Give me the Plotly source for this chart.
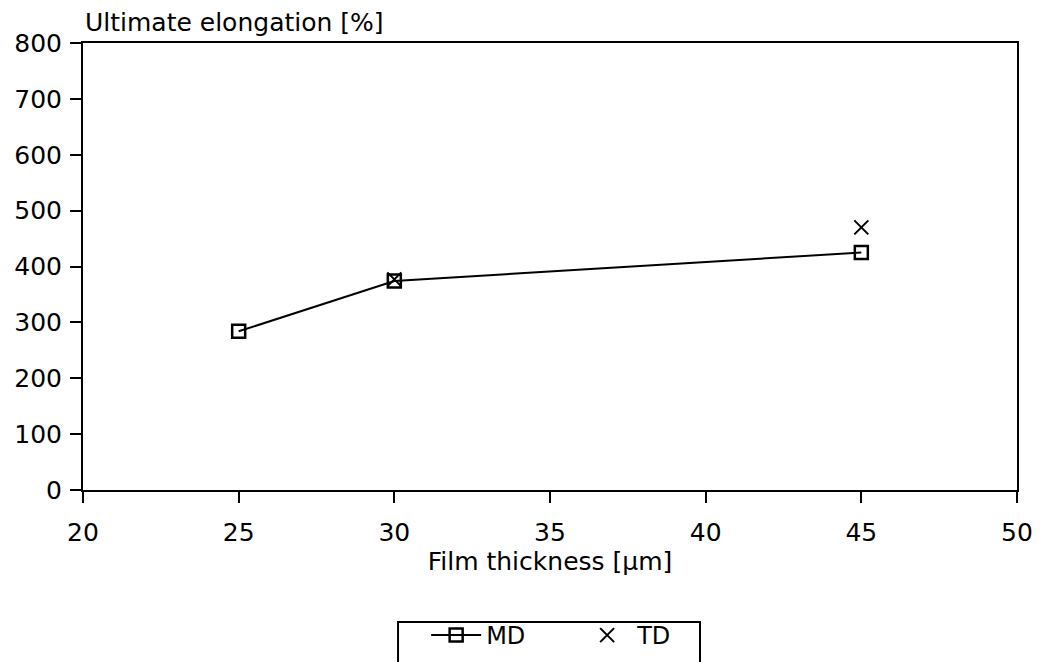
import plotly.graph_objects as go

# Ultimate elongation vs. film thickness, machine (MD) and transverse (TD) direction
thickness_md = [25, 30, 45]
elongation_md = [284, 374, 425]

thickness_td = [30, 45]
elongation_td = [377, 470]

x_ticks = [20, 25, 30, 35, 40, 45, 50]
y_ticks = [0, 100, 200, 300, 400, 500, 600, 700, 800]

font_family = "DejaVu Sans, Verdana, sans-serif"

fig = go.Figure()

fig.add_trace(go.Scatter(
    x=thickness_md, y=elongation_md, name="MD",
    mode="lines+markers",
    line=dict(color="black", width=2),
    marker=dict(symbol="square-open", size=13, color="black",
                line=dict(color="black", width=2.5)),
))

fig.add_trace(go.Scatter(
    x=thickness_td, y=elongation_td, name="TD",
    mode="markers",
    marker=dict(symbol="x-thin-open", size=14, color="black",
                line=dict(color="black", width=2)),
))

axis_common = dict(
    showgrid=False, zeroline=False,
    showline=True, linecolor="black", linewidth=2, mirror=True,
    ticks="outside", ticklen=11, tickwidth=2, tickcolor="black",
    tickfont=dict(family=font_family, size=25, color="black"),
)

fig.update_layout(
    width=1041, height=662,
    paper_bgcolor="white", plot_bgcolor="white",
    margin=dict(l=83, r=24, t=43, b=172, autoexpand=False),
    font=dict(family=font_family, color="black"),
    xaxis=dict(range=[20, 50], tickvals=x_ticks, ticklabelstandoff=8,
               title=dict(text="Film thickness [µm]",
                          font=dict(family=font_family, size=25), standoff=2),
               **axis_common),
    yaxis=dict(range=[0, 800], tickvals=y_ticks, ticklabelstandoff=3,
               **axis_common),
    showlegend=True,
    legend=dict(
        orientation="h", x=0.3383, xanchor="left", y=-0.2752, yanchor="top",
        borderwidth=0, bgcolor="rgba(0,0,0,0)",
        font=dict(family=font_family, size=24, color="black"),
        title=dict(text="&nbsp;&nbsp;&nbsp;", side="left",
                   font=dict(family=font_family, size=18)),
        entrywidth=86, itemwidth=50,
        tracegroupgap=0,
    ),
    # frame around the legend, open at the bottom edge of the page
    shapes=[dict(
        type="rect", xref="paper", yref="paper",
        x0=0.3373, x1=0.6606, y0=-0.2953, y1=-0.46,
        line=dict(color="black", width=2), fillcolor="rgba(0,0,0,0)",
    )],
    annotations=[dict(
        text="Ultimate elongation [%]", xref="paper", yref="paper",
        x=0, y=1, xanchor="left", yanchor="bottom", yshift=4, showarrow=False,
        font=dict(family=font_family, size=25, color="black"),
    )],
)

fig.write_html("out.html")
